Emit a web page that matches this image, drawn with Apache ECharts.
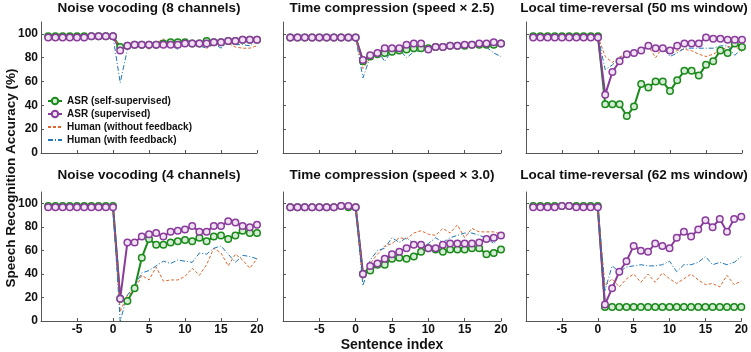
<!DOCTYPE html>
<html>
<head>
<meta charset="utf-8">
<script src="https://cdn.jsdelivr.net/npm/echarts@6/dist/echarts.min.js"></script>
<style>
  html, body { margin: 0; padding: 0; background: #fff; }
  #chart { width: 751px; height: 352px; }
</style>
</head>
<body>
<div id="chart"></div>
<script>
// sentence index -9 .. 20
const sentenceIdx = [-9, -8, -7, -6, -5, -4, -3, -2, -1, 0, 1, 2, 3, 4, 5, 6, 7, 8, 9, 10,
  11, 12, 13, 14, 15, 16, 17, 18, 19, 20]
const xTicks = [-5, 0, 5, 10, 15, 20]
const yTicks = [0, 20, 40, 60, 80, 100]

const panelTitles = [
  'Noise vocoding (8 channels)', 'Time compression (speed \u00d7 2.5)', 'Local time-reversal (50 ms window)',
  'Noise vocoding (4 channels)', 'Time compression (speed \u00d7 3.0)', 'Local time-reversal (62 ms window)'
]
const seriesNames = ['ASR (self-supervised)', 'ASR (supervised)', 'Human (without feedback)', 'Human (with feedback)']

// ASR self-supervised (green), x = -9..20
const selfSup1 = [98, 98, 98, 98, 98, 98, 98, 98, 98, 98, 89, 90, 91, 91, 91, 91, 92, 93, 93, 93, 92, 92, 94, 93, 93, 94, 94, 95, 95, 95]
const selfSup2 = [97, 97, 97, 97, 97, 97, 97, 97, 97, 97, 77, 81, 83, 84, 85, 86, 87, 88, 88, 88, 89, 89, 90, 90, 90, 91, 91, 91, 91, 92]
const selfSup3 = [98, 98, 98, 98, 98, 98, 98, 98, 98, 98, 41, 41, 41, 31, 39, 58, 55, 60, 60, 52, 61, 69, 69, 65, 74, 77, 86, 84, 92, 89]
const selfSup4 = [98, 98, 98, 98, 98, 98, 98, 98, 98, 98, 19, 17, 28, 54, 70, 65, 65, 67, 68, 69, 68, 71, 68, 72, 73, 70, 73, 77, 75, 75]
const selfSup5 = [97, 97, 97, 97, 97, 97, 97, 98, 97, 97, 40, 43, 48, 48, 53, 54, 53, 55, 59, 62, 61, 59, 61, 61, 61, 62, 62, 57, 58, 61]
const selfSup6 = [98, 98, 98, 98, 98, 98, 98, 98, 98, 98, 12, 12, 12, 12, 12, 12, 12, 12, 12, 12, 12, 12, 12, 12, 12, 12, 12, 12, 12, 12]

// ASR supervised (purple)
const sup1 = [97, 97, 97, 97, 97, 97, 98, 98, 98, 98, 86, 90, 91, 91, 91, 91, 91, 91, 91, 92, 92, 92, 92, 93, 93, 94, 94, 95, 95, 95]
const sup2 = [97, 97, 97, 97, 97, 97, 97, 97, 97, 97, 78, 82, 84, 88, 88, 88, 91, 92, 92, 87, 89, 89, 90, 90, 91, 91, 92, 92, 93, 92]
const sup3 = [97, 97, 97, 97, 97, 97, 97, 97, 97, 97, 49, 68, 77, 83, 84, 86, 90, 88, 88, 86, 90, 92, 92, 92, 97, 96, 96, 95, 95, 95]
const sup4 = [97, 97, 97, 97, 97, 97, 97, 97, 97, 97, 19, 67, 67, 72, 74, 75, 72, 76, 77, 78, 81, 76, 76, 81, 81, 85, 84, 81, 80, 82]
const sup5 = [97, 97, 97, 97, 97, 97, 97, 98, 98, 97, 40, 47, 49, 53, 57, 59, 62, 65, 65, 62, 62, 65, 66, 66, 66, 66, 67, 70, 71, 73]
const sup6 = [97, 97, 97, 97, 98, 98, 97, 97, 97, 97, 14, 28, 42, 51, 64, 60, 59, 66, 64, 62, 71, 76, 72, 78, 86, 80, 87, 76, 87, 89]

// Human without feedback (orange), starts at sentence 0
const noFb1 = [null, null, null, null, null, null, null, null, null, 98, 88, 91, 90, 93, 87, 92, 96, 89, 88, 91, 94, 92, 88, 91, 93, 92, 89, 88, 88, 90]
const noFb2 = [null, null, null, null, null, null, null, null, null, 97, 71, 80, 85, 87, 86, 88, 89, 90, 90, 88, 89, 89, 90, 90, 90, 91, 91, 92, 91, 91]
const noFb3 = [null, null, null, null, null, null, null, null, null, 98, 81, 76, 81, 82, 83, 86, 90, 80, 89, 83, 86, 87, 86, 83, 81, 83, 86, 89, 90, 85]
const noFb4 = [null, null, null, null, null, null, null, null, null, 97, 8, 22, 26, 39, 35, 46, 34, 35, 35, 38, 45, 39, 48, 62, 58, 47, 57, 52, 45, 53]
const noFb5 = [null, null, null, null, null, null, null, null, null, 97, 36, 49, 57, 64, 66, 71, 70, 75, 77, 74, 73, 79, 75, 82, 71, 79, 76, 76, 76, 74]
const noFb6 = [null, null, null, null, null, null, null, null, null, 97, 30, 36, 29, 36, 40, 33, 40, 33, 41, 36, 32, 36, 40, 35, 31, 32, 29, 39, 31, 34]

// Human with feedback (blue)
const withFb1 = [null, null, null, null, null, null, null, null, null, 98, 59, 87, 90, 91, 91, 92, 90, 91, 87, 91, 93, 90, 88, 92, 88, 93, 91, 91, 90, 94]
const withFb2 = [null, null, null, null, null, null, null, null, null, 97, 63, 81, 86, 77, 86, 87, 80, 85, 86, 87, 88, 88, 88, 89, 89, 90, 90, 89, 84, 81]
const withFb3 = [null, null, null, null, null, null, null, null, null, 98, 70, 74, 80, 83, 84, 87, 88, 88, 88, 81, 84, 88, 88, 88, 88, 88, 90, 90, 82, 88]
const withFb4 = [null, null, null, null, null, null, null, null, null, 97, 0, 22, 30, 41, 43, 47, 51, 49, 52, 51, 50, 58, 57, 62, 64, 57, 50, 56, 55, 53]
const withFb5 = [null, null, null, null, null, null, null, null, null, 97, 30, 52, 60, 62, 71, 67, 71, 66, 62, 66, 71, 67, 71, 73, 75, 75, 73, 71, 66, 73]
const withFb6 = [null, null, null, null, null, null, null, null, null, 97, 26, 47, 42, 46, 47, 48, 47, 47, 48, 51, 42, 48, 48, 50, 55, 48, 50, 48, 50, 55]

const panels = [
  [selfSup1, sup1, noFb1, withFb1],
  [selfSup2, sup2, noFb2, withFb2],
  [selfSup3, sup3, noFb3, withFb3],
  [selfSup4, sup4, noFb4, withFb4],
  [selfSup5, sup5, noFb5, withFb5],
  [selfSup6, sup6, noFb6, withFb6],
]

const FONT = 'Arial, "Liberation Sans", sans-serif'
const green = '#1a8a1a'
const purple = '#8a3c9c'
const orange = '#e0652a'
const blue = '#1f77b4'
const axisColor = '#555'

const grids = [
  { left: 41, top: 22, width: 216, height: 131 },
  { left: 283, top: 22, width: 218, height: 131 },
  { left: 526, top: 22, width: 216, height: 131 },
  { left: 41, top: 192, width: 216, height: 129 },
  { left: 283, top: 192, width: 218, height: 129 },
  { left: 526, top: 192, width: 216, height: 129 },
]

const toPairs = (vals) => sentenceIdx.map((x, i) => [x, vals[i]])

const xAxis = grids.map((g, i) => ({
  type: 'value', gridIndex: i, min: -10, max: 20,
  splitLine: { show: false },
  axisLine: { onZero: false, lineStyle: { color: axisColor, width: 1 } },
  axisTick: { inside: true, length: 3, customValues: xTicks, lineStyle: { color: axisColor } },
  axisLabel: {
    show: i >= 3, customValues: xTicks, margin: 3,
    color: '#111', fontWeight: 'bold', fontSize: 12, fontFamily: FONT
  }
}))

const yAxis = grids.map((g, i) => ({
  type: 'value', gridIndex: i, min: 0, max: 110,
  splitLine: { show: false },
  axisLine: { show: true, onZero: false, lineStyle: { color: axisColor, width: 1 } },
  axisTick: { show: true, inside: true, length: 3, customValues: yTicks, lineStyle: { color: axisColor } },
  axisLabel: {
    show: i % 3 === 0, customValues: yTicks, margin: 3,
    color: '#111', fontWeight: 'bold', fontSize: 12, fontFamily: FONT
  }
}))

const series = []
panels.forEach((p, i) => {
  series.push({
    name: seriesNames[0], type: 'line', xAxisIndex: i, yAxisIndex: i,
    data: toPairs(p[0]), symbol: 'circle', symbolSize: 6.5,
    lineStyle: { color: green, width: 2 },
    itemStyle: { color: '#d6ecd6', borderColor: green, borderWidth: 1.5 }
  })
  series.push({
    name: seriesNames[1], type: 'line', xAxisIndex: i, yAxisIndex: i,
    data: toPairs(p[1]), symbol: 'circle', symbolSize: 6.5,
    lineStyle: { color: purple, width: 2 },
    itemStyle: { color: '#f0e2f3', borderColor: purple, borderWidth: 1.5 }
  })
  series.push({
    name: seriesNames[2], type: 'line', xAxisIndex: i, yAxisIndex: i,
    data: toPairs(p[2]), symbol: 'none',
    lineStyle: { color: orange, width: 1, type: [3, 2] },
    itemStyle: { color: orange }
  })
  series.push({
    name: seriesNames[3], type: 'line', xAxisIndex: i, yAxisIndex: i,
    data: toPairs(p[3]), symbol: 'none',
    lineStyle: { color: blue, width: 1, type: [5, 2, 1, 2] },
    itemStyle: { color: blue }
  })
})

const titleText = panelTitles.map((t, i) => ({
  type: 'text',
  x: grids[i].left + grids[i].width / 2,
  y: i < 3 ? 8 : 175,
  style: {
    text: t, align: 'center', verticalAlign: 'middle',
    fontSize: 13.5, fontWeight: 'bold', fontFamily: FONT, fill: '#111'
  }
}))

// hide the symbol in the legend for the dashed human lines
const noSymbol = { color: 'rgba(0,0,0,0)', borderWidth: 0, opacity: 0 }

const chart = echarts.init(document.getElementById('chart'))
chart.setOption({
  animation: false,
  backgroundColor: '#fff',
  grid: grids,
  xAxis: xAxis,
  yAxis: yAxis,
  legend: {
    data: [
      seriesNames[0],
      seriesNames[1],
      { name: seriesNames[2], itemStyle: noSymbol },
      { name: seriesNames[3], itemStyle: noSymbol }
    ],
    orient: 'vertical',
    left: 42, top: 91,
    itemWidth: 14, itemHeight: 8, itemGap: 3,
    textStyle: { fontSize: 10, fontWeight: 'bold', fontFamily: FONT, color: '#111' },
    selectedMode: false
  },
  graphic: titleText.concat([
    {
      type: 'text', x: 11, y: 178, rotation: Math.PI / 2,
      style: {
        text: 'Speech Recognition Accuracy (%)', align: 'center', verticalAlign: 'middle',
        fontSize: 13.5, fontWeight: 'bold', fontFamily: FONT, fill: '#111'
      }
    },
    {
      type: 'text', x: 392, y: 345,
      style: {
        text: 'Sentence index', align: 'center', verticalAlign: 'middle',
        fontSize: 14, fontWeight: 'bold', fontFamily: FONT, fill: '#111'
      }
    }
  ]),
  series: series
})
</script>
</body>
</html>
